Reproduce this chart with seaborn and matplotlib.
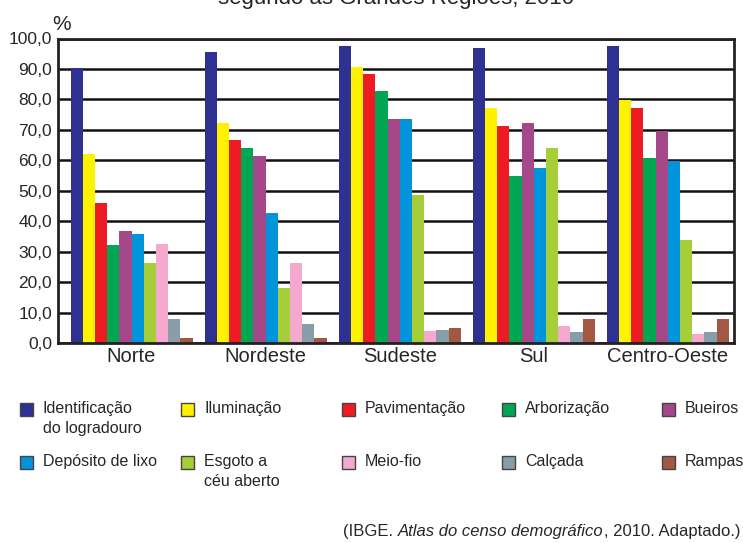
import matplotlib
matplotlib.use("Agg")
import matplotlib.pyplot as plt
from matplotlib import font_manager
from matplotlib.patches import Rectangle
import seaborn as sns
import pandas as pd

regioes = ["Norte", "Nordeste", "Sudeste", "Sul", "Centro-Oeste"]
itens = ["Identificação\ndo logradouro", "Iluminação", "Pavimentação", "Arborização", "Bueiros",
         "Depósito de lixo", "Esgoto a\ncéu aberto", "Meio-fio", "Calçada", "Rampas"]
cores = ["#2E3192", "#FFF200", "#ED1C24", "#00A651", "#A4488A",
         "#0095DA", "#A6CE39", "#F5A9CF", "#879EA9", "#A25843"]

identificacao = [90.4, 95.7, 97.7, 97.0, 97.7]
iluminacao    = [62.2, 72.4, 90.8, 77.3, 79.9]
pavimentacao  = [46.1, 66.8, 88.2, 71.4, 77.3]
arborizacao   = [32.2, 64.1, 82.6, 54.9, 60.9]
bueiros       = [36.8, 61.5, 73.7, 72.4, 69.7]
deposito_lixo = [35.9, 42.8, 73.4, 57.6, 59.9]
esgoto_aberto = [26.3, 18.1, 48.7, 64.1, 33.9]
meio_fio      = [32.6, 26.3, 3.9, 5.6, 3.0]
calcada       = [7.9, 6.3, 4.3, 3.6, 3.6]
rampas        = [1.6, 1.6, 4.9, 7.9, 7.9]

series = [identificacao, iluminacao, pavimentacao, arborizacao, bueiros,
          deposito_lixo, esgoto_aberto, meio_fio, calcada, rampas]
yticks = [0, 10, 20, 30, 40, 50, 60, 70, 80, 90, 100]
ytick_labels = ["0,0", "10,0", "20,0", "30,0", "40,0", "50,0", "60,0", "70,0", "80,0", "90,0", "100,0"]

rows = []
for item, vals in zip(itens, series):
    for reg, v in zip(regioes, vals):
        rows.append({"regiao": reg, "item": item, "valor": v})
df = pd.DataFrame(rows)

sns.set_style("white")
names = {f.name for f in font_manager.fontManager.ttflist}
main_font = "Liberation Sans Narrow" if "Liberation Sans Narrow" in names else "Liberation Sans"
plt.rcParams["font.family"] = [main_font, "DejaVu Sans"]

W, H = 743, 543
fig = plt.figure(figsize=(W / 100, H / 100), dpi=100)
ax_l, ax_r, ax_t, ax_b = 57.5, 734, 38.5, 343
ax = fig.add_axes([ax_l / W, 1 - ax_b / H, (ax_r - ax_l) / W, (ax_b - ax_t) / H])

sns.barplot(data=df, x="regiao", y="valor", hue="item", hue_order=itens, order=regioes,
            palette=cores, saturation=1, width=0.91, dodge=True, ax=ax, legend=False,
            errorbar=None, linewidth=0)

ax.set_axisbelow(True)
ax.set_ylim(0, 100)
ax.set_xlim(-0.552, 4.493)
ax.set_yticks(yticks)
ax.set_yticklabels(ytick_labels, fontsize=12.5)
ax.yaxis.grid(True, color="#111111", linewidth=1.8)
ax.xaxis.grid(False)
ax.tick_params(axis="both", length=0, pad=4)
ax.tick_params(axis="x", labelsize=14.5, pad=3)
ax.set_xlabel("")
ax.set_ylabel("")
for s in ax.spines.values():
    s.set_visible(True)
    s.set_color("#222222")
    s.set_linewidth(2)

fig.text(62 / W, 1 - 30 / H, "%", fontsize=15, ha="center", va="baseline")
fig.text(396 / W, 1 - 4 / H, "segundo as Grandes Regiões, 2010", fontsize=16,
         ha="center", va="baseline", family=["Liberation Sans", "DejaVu Sans"])

# legend
mx = [20, 181, 342, 502, 662]
my = [403, 456]
for i, (lab, c) in enumerate(zip(itens, cores)):
    r, col = divmod(i, 5)
    x0, y0 = mx[col], my[r]
    fig.add_artist(Rectangle((x0 / W, 1 - (y0 + 13) / H), 13 / W, 13 / H,
                             transform=fig.transFigure, facecolor=c,
                             edgecolor="#444444", linewidth=1))
    fig.text((x0 + 23) / W, 1 - (y0 - 2) / H, lab, fontsize=11.5, ha="left",
             va="top", linespacing=1.45)

# source
fig.canvas.draw()
renderer = fig.canvas.get_renderer()
parts = [("(IBGE. ", "normal"), ("Atlas do censo demográfico", "italic"), (", 2010. Adaptado.)", "normal")]
x_right = 740
texts = []
for s, st in parts:
    t = fig.text(0, 1 - 536 / H, s, fontsize=12, style=st, ha="left", va="baseline",
                 family=["Liberation Sans", "DejaVu Sans"])
    texts.append(t)
widths = [t.get_window_extent(renderer).width for t in texts]
x = x_right - sum(widths)
for t, w in zip(texts, widths):
    t.set_x(x / W)
    x += w

fig.savefig("out.png", dpi=100)
